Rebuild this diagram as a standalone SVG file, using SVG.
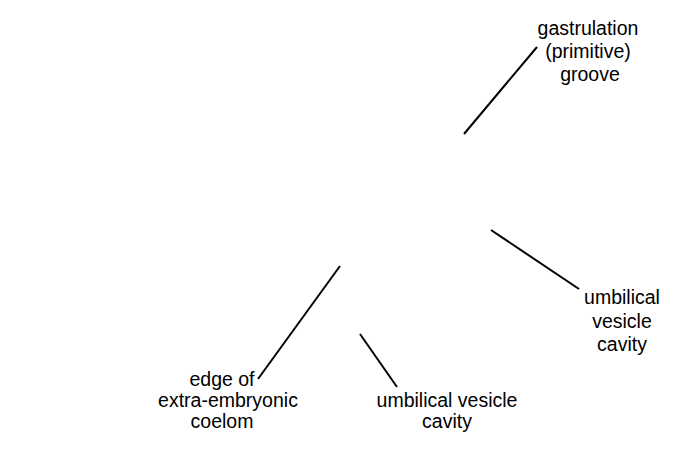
<svg xmlns="http://www.w3.org/2000/svg" width="675" height="450" viewBox="0 0 675 450">
<style>
text{font-family:"Liberation Sans",Arial,sans-serif;font-size:19.5px;fill:#000;text-anchor:middle}
.c line{stroke:#000;stroke-width:2}
</style>
<rect width="675" height="450" fill="#fff"/>
<g class="c" id="connectors">
<line x1="464" y1="134" x2="537" y2="47"/>
<line x1="340" y1="266" x2="258" y2="379"/>
<line x1="360" y1="334" x2="397" y2="387"/>
<line x1="491" y1="230" x2="579" y2="289"/>
</g>
<g id="gastrulation"><text x="588" y="35">gastrulation</text><text x="588" y="58">(primitive)</text><text x="590" y="81">groove</text></g>
<g id="edge"><text x="222" y="386">edge of</text><text x="228" y="407">extra-embryonic</text><text x="222" y="428">coelom</text></g>
<g id="umb1"><text x="447" y="407">umbilical vesicle</text><text x="447" y="428">cavity</text></g>
<g id="umb2"><text x="622" y="304">umbilical</text><text x="622" y="328">vesicle</text><text x="622" y="351">cavity</text></g>
</svg>
